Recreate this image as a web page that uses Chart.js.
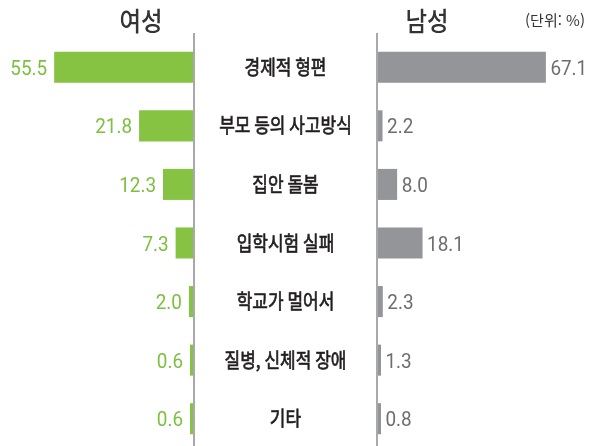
<!DOCTYPE html>
<html lang="ko">
<head>
<meta charset="utf-8">
<script src="https://cdn.jsdelivr.net/npm/chart.js@4.4.0/dist/chart.umd.min.js"></script>
<style>
  html, body { margin: 0; padding: 0; background: #fff; }
  #wrap { position: relative; width: 601px; height: 446px; overflow: hidden; font-family: 'Noto Sans CJK KR', sans-serif; }
  #femaleChart { position: absolute; left: 0; top: 0; }
  #maleChart { position: absolute; left: 194px; top: 0; }
  .title { position: absolute; top: 7px; width: 100px; text-align: center; font-size: 26px; line-height: 26px; font-weight: 500; color: #333; transform: scaleX(0.9); }
  #unit { position: absolute; left: 505px; top: 12px; width: 100px; text-align: center; font-size: 15px; line-height: 15px; color: #333; }
</style>
</head>
<body>
<div id="wrap">
  <canvas id="femaleChart" width="195" height="451"></canvas>
  <canvas id="maleChart" width="407" height="451"></canvas>
  <div class="title" style="left:91px">여성</div>
  <div class="title" style="left:377px">남성</div>
  <div id="unit">(단위: %)</div>
</div>
<script>
// reasons for quitting school, by sex (%)
const categories = ['경제적 형편', '부모 등의 사고방식', '집안 돌봄', '입학시험 실패', '학교가 멀어서', '질병, 신체적 장애', '기타'];
const femaleValues = [55.5, 21.8, 12.3, 7.3, 2.0, 0.6, 0.6];
const maleValues = [67.1, 2.2, 8.0, 18.1, 2.3, 1.3, 0.8];

const GREEN = '#86c342';
const GREEN_TEXT = '#7dbf3f';
const GRAY = '#939598';
const GRAY_TEXT = '#6d6e71';

// vertical divider line next to the bars
const dividerPlugin = {
  id: 'divider',
  afterDatasetsDraw(chart, args, opts) {
    const { ctx, chartArea } = chart;
    const x = opts.side === 'left' ? chartArea.right : chartArea.left;
    ctx.save();
    ctx.strokeStyle = '#a7a9ac';
    ctx.lineWidth = 2;
    ctx.beginPath();
    ctx.moveTo(x, 33);
    ctx.lineTo(x, chart.height);
    ctx.stroke();
    ctx.restore();
  }
};

// numbers at the end of each bar
const valueLabelPlugin = {
  id: 'valueLabels',
  afterDatasetsDraw(chart, args, opts) {
    const { ctx } = chart;
    const values = chart.data.datasets[0].data;
    const left = opts.side === 'left';
    ctx.save();
    ctx.fillStyle = opts.color;
    ctx.font = '21px Roboto';
    ctx.textAlign = left ? 'right' : 'left';
    chart.getDatasetMeta(0).data.forEach((bar, i) => {
      ctx.save();
      ctx.translate(left ? bar.x - 7 : bar.x + 4.5, bar.y + 7.5);
      ctx.scale(0.9, 1);
      ctx.fillText(values[i].toFixed(1), 0, 0);
      ctx.restore();
    });
    ctx.restore();
  }
};

// category names in the gap between the two sides
const categoryLabelPlugin = {
  id: 'categoryLabels',
  afterDraw(chart) {
    const { ctx, chartArea, scales } = chart;
    const cx = chartArea.left / 2;
    ctx.save();
    ctx.fillStyle = '#231f20';
    ctx.strokeStyle = '#231f20';
    ctx.lineWidth = 0.7;
    ctx.font = '20px "Noto Sans CJK KR"';
    ctx.textAlign = 'center';
    ctx.textBaseline = 'middle';
    chart.data.labels.forEach((label, i) => {
      ctx.save();
      ctx.translate(cx, scales.y.getPixelForValue(i));
      ctx.scale(0.85, 1);
      ctx.fillText(label, 0, 0);
      ctx.strokeText(label, 0, 0); // a little heavier than regular
      ctx.restore();
    });
    ctx.restore();
  }
};

function sideOptions(side, max, padding, color) {
  return {
    indexAxis: 'y',
    responsive: false,
    animation: false,
    layout: { padding: padding },
    plugins: {
      legend: { display: false },
      tooltip: { enabled: false },
      divider: { side: side },
      valueLabels: { side: side, color: color }
    },
    scales: {
      x: { display: false, min: 0, max: max, reverse: side === 'left' },
      y: { display: false }
    }
  };
}

new Chart(document.getElementById('femaleChart'), {
  type: 'bar',
  data: {
    labels: categories,
    datasets: [{
      label: '여성',
      data: femaleValues,
      backgroundColor: GREEN,
      barPercentage: 0.53,
      categoryPercentage: 1,
      minBarLength: 4
    }]
  },
  options: sideOptions('left', 77, { top: 38, bottom: 3, left: 0, right: 1 }, GREEN_TEXT),
  plugins: [dividerPlugin, valueLabelPlugin]
});

new Chart(document.getElementById('maleChart'), {
  type: 'bar',
  data: {
    labels: categories,
    datasets: [{
      label: '남성',
      data: maleValues,
      backgroundColor: GRAY,
      barPercentage: 0.53,
      categoryPercentage: 1,
      minBarLength: 4
    }]
  },
  options: sideOptions('right', 89, { top: 38, bottom: 3, left: 183, right: 0 }, GRAY_TEXT),
  plugins: [dividerPlugin, valueLabelPlugin, categoryLabelPlugin]
});
</script>
</body>
</html>
